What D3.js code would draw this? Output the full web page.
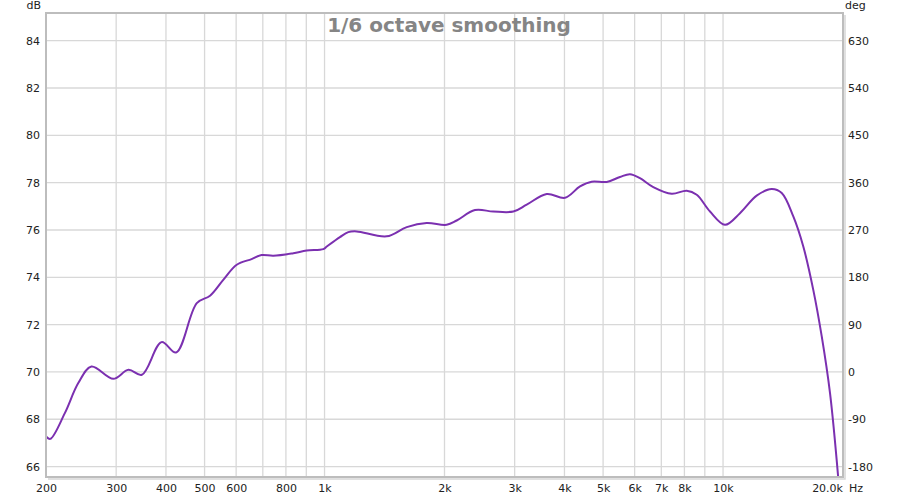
<!DOCTYPE html>
<html>
<head>
<meta charset="utf-8">
<script src="https://cdn.jsdelivr.net/npm/d3@7"></script>
<style>
  body { margin: 0; background: #fff; }
  svg text { font-family: "DejaVu Sans", sans-serif; }
</style>
</head>
<body>
<div id="chart"></div>
<script>
// frequency response
const freqs = [200, 205, 223, 241, 260, 295, 322, 348, 390, 424, 478, 516, 557, 602, 656, 695, 744, 835, 902, 993,
  1013, 1093, 1147, 1204, 1432, 1608, 1804, 2025, 2146, 2385, 2652, 2977, 3216, 3610, 4013, 4376, 4682, 5106, 5512,
  5841, 6188, 6683, 7433, 8108, 8590, 9276, 10114, 11028, 12144, 13246, 14036, 15008, 15900, 16844, 17688, 18555, 19460];
const levels = [67.27, 67.17, 68.26, 69.53, 70.23, 69.71, 70.09, 69.88, 71.26, 70.82, 72.91, 73.22, 73.89, 74.53, 74.77, 74.94, 74.91, 75.02, 75.13, 75.19,
  75.30, 75.70, 75.91, 75.94, 75.73, 76.12, 76.29, 76.22, 76.40, 76.84, 76.78, 76.78, 77.07, 77.52, 77.36, 77.84, 78.04, 78.03, 78.24,
  78.36, 78.19, 77.81, 77.53, 77.66, 77.49, 76.78, 76.22, 76.71, 77.45, 77.73, 77.56, 76.57, 75.30, 73.47, 71.50, 69.10, 65.51];

const gridFreqs = [300, 400, 500, 600, 700, 800, 900, 1000, 2000, 3000, 4000, 5000, 6000, 7000, 8000, 9000, 10000];
const xTickVals = [200, 300, 400, 500, 600, 800, 1000, 2000, 3000, 4000, 5000, 6000, 7000, 8000, 10000];
const xTickText = ["200", "300", "400", "500", "600", "800", "1k", "2k", "3k", "4k", "5k", "6k", "7k", "8k", "10k"];
const dbTicks = [66, 68, 70, 72, 74, 76, 78, 80, 82, 84];
const degTicks = [-180, -90, 0, 90, 180, 270, 360, 450, 540, 630];

const w = 900, h = 498;
const pl = 46, pr = 843, pt = 13, pb = 477;

const x = d3.scaleLog().domain([200, 20000]).range([pl, pr]);
const y = d3.scaleLinear().domain([65.56, 85.17]).range([pb, pt]);
// phase axis: 0 deg sits on 70 dB, 45 deg per dB
const yDeg = d3.scaleLinear().domain([(65.56 - 70) * 45, (85.17 - 70) * 45]).range([pb, pt]);

const svg = d3.select("#chart").append("svg")
  .attr("width", w)
  .attr("height", h);

svg.append("rect").attr("x", pl).attr("y", pt)
  .attr("width", pr - pl).attr("height", pb - pt)
  .attr("fill", "#fff");

// grid
svg.append("g").selectAll("line").data(gridFreqs).enter().append("line")
  .attr("x1", d => x(d)).attr("x2", d => x(d))
  .attr("y1", pt).attr("y2", pb)
  .attr("stroke", "#d8d8d8").attr("stroke-width", 1.3);

svg.append("g").selectAll("line").data(dbTicks).enter().append("line")
  .attr("x1", pl).attr("x2", pr)
  .attr("y1", d => y(d)).attr("y2", d => y(d))
  .attr("stroke", "#d8d8d8").attr("stroke-width", 1.3);

// title
svg.append("text")
  .attr("x", 449).attr("y", 32)
  .attr("text-anchor", "middle")
  .style("font-size", "20px").style("font-weight", "bold")
  .attr("fill", "#858585")
  .text("1/6 octave smoothing");

// curve
svg.append("clipPath").attr("id", "plotclip").append("rect")
  .attr("x", pl).attr("y", pt).attr("width", pr - pl).attr("height", pb - pt);

const pts = freqs.map((f, i) => [f, levels[i]]);
const line = d3.line()
  .x(d => x(d[0]))
  .y(d => y(d[1]))
  .curve(d3.curveCatmullRom.alpha(0.5));

svg.append("path")
  .datum(pts)
  .attr("clip-path", "url(#plotclip)")
  .attr("fill", "none")
  .attr("stroke", "#7b30b0")
  .attr("stroke-width", 2)
  .attr("d", line);

// frame
svg.append("rect").attr("x", pl).attr("y", pt)
  .attr("width", pr - pl).attr("height", pb - pt)
  .attr("fill", "none").attr("stroke", "#bdbdbd").attr("stroke-width", 2);
svg.append("path")
  .attr("d", `M${pr + 2},${pt + 2}V${pb + 2}H${pl + 2}`)
  .attr("fill", "none").attr("stroke", "#d6d6d6").attr("stroke-width", 1.5);

// axes
const yAxis = d3.axisLeft(y).tickValues(dbTicks).tickSize(0).tickPadding(6);
svg.append("g").attr("transform", `translate(${pl},0)`).call(yAxis)
  .call(g => g.select(".domain").remove())
  .selectAll("text").style("font-size", "11px").attr("fill", "#222");

const degAxis = d3.axisRight(yDeg).tickValues(degTicks).tickSize(0).tickPadding(5)
  .tickFormat(d => String(d));
svg.append("g").attr("transform", `translate(${pr},0)`).call(degAxis)
  .call(g => g.select(".domain").remove())
  .selectAll("text").style("font-size", "11px").attr("fill", "#222");

const xAxis = d3.axisBottom(x).tickValues(xTickVals).tickSize(0).tickPadding(7)
  .tickFormat((d, i) => xTickText[i]);
svg.append("g").attr("transform", `translate(0,${pb})`).call(xAxis)
  .call(g => g.select(".domain").remove())
  .selectAll("text").style("font-size", "11px").attr("fill", "#222");

svg.append("text").attr("x", pr).attr("y", 492).attr("text-anchor", "end")
  .style("font-size", "11px").attr("fill", "#222").text("20.0k");
svg.append("text").attr("x", 849).attr("y", 492)
  .style("font-size", "11px").attr("fill", "#222").text("Hz");

svg.append("text").attr("x", 41).attr("y", 9).attr("text-anchor", "end")
  .style("font-size", "11px").attr("fill", "#222").text("dB");
svg.append("text").attr("x", 845).attr("y", 9)
  .style("font-size", "11px").attr("fill", "#222").text("deg");
</script>
</body>
</html>
